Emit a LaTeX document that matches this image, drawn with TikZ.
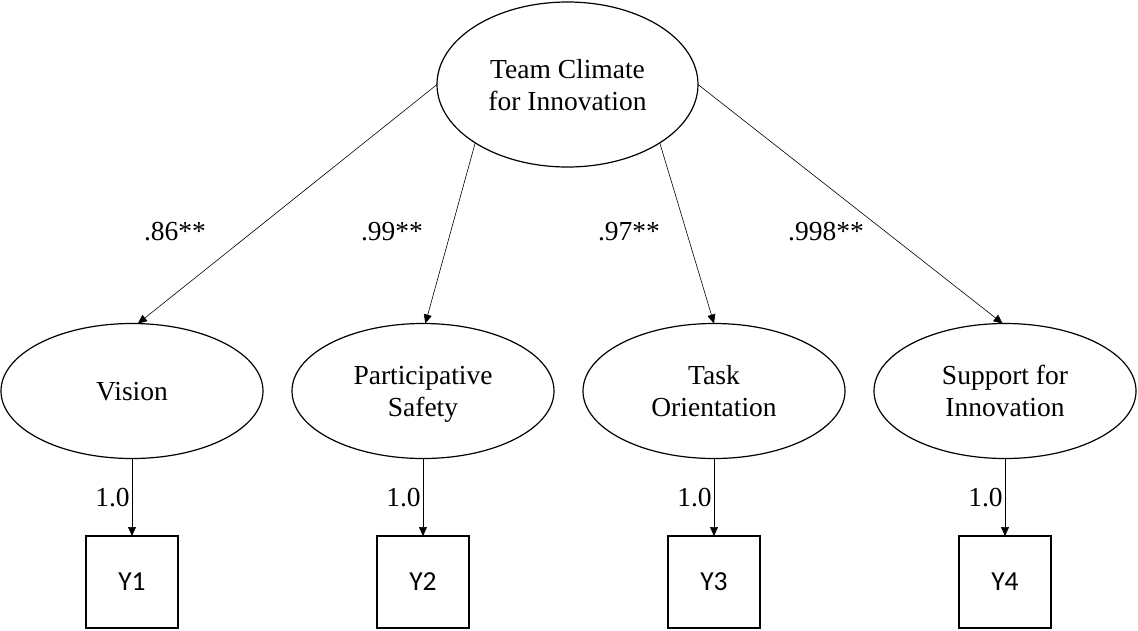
\documentclass[tikz,border=0pt]{standalone}
\usepackage{fontspec}
\setmainfont{Liberation Serif}
\newfontfamily\boxfont{Carlito}
\usetikzlibrary{arrows.meta, shapes.geometric}

\tikzset{
  latent/.style={draw, ellipse, line width=1.2pt, inner sep=0pt, outer sep=0pt,
    minimum width=262pt, minimum height=135pt, align=center, text depth=0pt,
    font=\fontsize{27.5}{32}\selectfont},
  observed/.style={draw, rectangle, line width=1.2pt, inner sep=0pt, outer sep=0pt,
    minimum size=92pt, font=\boxfont\fontsize{27.5}{32}\selectfont},
  loading/.style={line width=0.6pt, -{Triangle[length=9pt, width=8pt]}},
  coef/.style={inner sep=2pt, font=\fontsize{27.5}{32}\selectfont}
}

\begin{document}
\begin{tikzpicture}[x=1pt, y=-1pt]
\useasboundingbox (0,0) rectangle (1138,630);

% Second-order factor
\node[latent, minimum width=261pt, minimum height=165pt] (tc) at (567.5,84.5) {Team Climate\\for Innovation};

% First-order factors
\node[latent] (v)  at (132,391)  {Vision};
\node[latent] (ps) at (423,391)  {Participative\\Safety};
\node[latent] (to) at (714,391)  {Task\\Orientation};
\node[latent] (si) at (1005,391) {Support for\\Innovation};

% Indicators
\node[observed] (y1) at (132,582)  {Y1};
\node[observed] (y2) at (423,582)  {Y2};
\node[observed] (y3) at (714,582)  {Y3};
\node[observed] (y4) at (1005,582) {Y4};

% Factor loadings
\draw[loading] (tc.west) -- (v.85);
\draw[loading] (tc.south west) -- (ps.88);
\draw[loading] (tc.south east) -- (to.north);
\draw[loading] (tc.east) -- (si.92);
\node[coef] (b1) at (175,232) {.86**};
\node[coef] (b2) at (392,232) {.99**};
\node[coef] (b3) at (629,232) {.97**};
\node[coef] (b4) at (826,232) {.998**};

% Fixed loadings
\draw[loading] (v)  -- node[coef, left] (f1) {1.0} (y1);
\draw[loading] (ps) -- node[coef, left] (f2) {1.0} (y2);
\draw[loading] (to) -- node[coef, left] (f3) {1.0} (y3);
\draw[loading] (si) -- node[coef, left] (f4) {1.0} (y4);
\end{tikzpicture}
\end{document}
